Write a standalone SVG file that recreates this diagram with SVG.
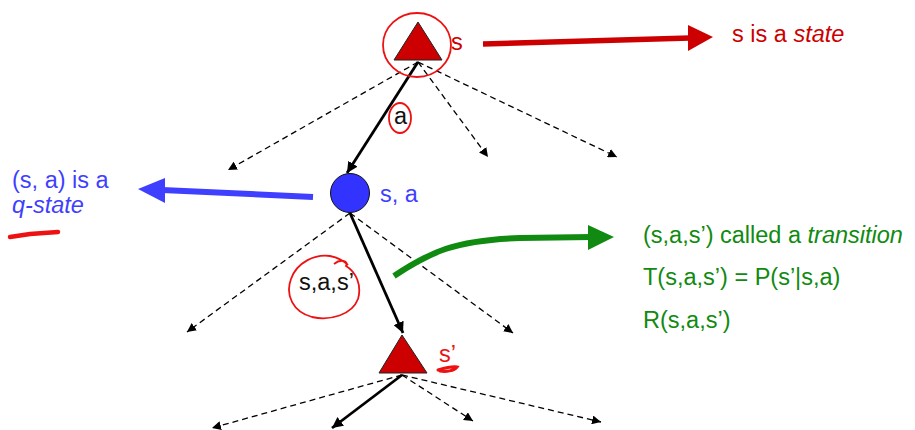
<svg xmlns="http://www.w3.org/2000/svg" width="915" height="430" viewBox="0 0 915 430">
<defs>
<style>
text{font-family:"Liberation Sans",Arial,sans-serif;font-size:23.5px}
.dash{stroke:#000;stroke-width:1.3;stroke-dasharray:6,4;fill:none}
.solid{stroke:#000;stroke-width:2.8;fill:none}
.ink{fill:none;stroke:#ee1111;stroke-width:1.8}
.red{fill:#cc0000}
.blue{fill:#3f3fff}
.green{fill:#108a10}
.it{font-style:italic}
</style>
<marker id="dh" viewBox="0 0 10 10" refX="10" refY="5" markerWidth="9" markerHeight="9" markerUnits="userSpaceOnUse" orient="auto"><path d="M0,0 L10,5 L0,10 z" fill="#000"/></marker>
<marker id="sh" viewBox="0 0 10 10" refX="10" refY="5" markerWidth="11" markerHeight="11" markerUnits="userSpaceOnUse" orient="auto"><path d="M0,0 L10,5 L0,10 z" fill="#000"/></marker>
</defs>
<rect width="915" height="430" fill="#fff"/>
<g id="connectors">
<line class="dash" x1="418" y1="62" x2="228" y2="170" marker-end="url(#dh)"/>
<line class="dash" x1="418" y1="62" x2="488" y2="157" marker-end="url(#dh)"/>
<line class="dash" x1="418" y1="62" x2="617" y2="157" marker-end="url(#dh)"/>
<line class="solid" x1="418" y1="62" x2="347" y2="173" marker-end="url(#sh)"/>
<line class="dash" x1="350" y1="213" x2="187" y2="332" marker-end="url(#dh)"/>
<line class="dash" x1="350" y1="213" x2="513" y2="333" marker-end="url(#dh)"/>
<line class="solid" x1="350" y1="213" x2="403" y2="333" marker-end="url(#sh)"/>
<line class="dash" x1="402" y1="375" x2="212" y2="428" marker-end="url(#dh)"/>
<line class="solid" x1="402" y1="375" x2="332" y2="428" marker-end="url(#sh)"/>
<line class="dash" x1="402" y1="375" x2="473" y2="421" marker-end="url(#dh)"/>
<line class="dash" x1="402" y1="375" x2="601" y2="422" marker-end="url(#dh)"/>
</g>
<g id="s">
<polygon points="418,22 394,60 442,60" fill="#cc0000" stroke="#222" stroke-width="1"/>
<ellipse class="ink" cx="417" cy="45" rx="34" ry="32"/>
<text x="451" y="50" class="red">s</text>
</g>
<g id="sa">
<circle cx="350" cy="193" r="19.5" fill="#3333ff" stroke="#111" stroke-width="1"/>
<text x="380" y="202" class="blue">s, a</text>
</g>
<g id="sprime">
<polygon points="402,335 379,373 427,373" fill="#cc0000" stroke="#222" stroke-width="1"/>
<text x="439" y="362" fill="#ee1111">s’</text>
<path d="M438,370 C445,368 452,366 457,367 C454,371 446,372 440,371" fill="none" stroke="#ee1111" stroke-width="3" stroke-linecap="round"/>
</g>
<g id="label-a">
<text x="394" y="124" fill="#111">a</text>
<ellipse class="ink" cx="400" cy="118" rx="11" ry="15"/>
</g>
<g id="label-sas">
<text x="299" y="290" fill="#111">s,a,s’</text>
<path class="ink" d="M334,264 C340,259 349,260 346,266 C356,272 362,285 358,299 C352,315 330,321 312,317 C293,312 285,295 291,279 C297,262 315,254 330,256 C340,258 346,263 348,265"/>
</g>
<g id="state-note">
<line x1="483" y1="44" x2="690" y2="38" stroke="#cc0000" stroke-width="5.5"/>
<polygon points="713,37 688,25 688,51" fill="#cc0000"/>
<text x="732" y="42" class="red">s is a <tspan class="it">state</tspan></text>
</g>
<g id="qstate-note">
<line x1="313" y1="197" x2="162" y2="190" stroke="#3f3fff" stroke-width="6"/>
<polygon points="138,189 165,178 165,203" fill="#3f3fff"/>
<text x="12" y="188" class="blue">(s, a) is a</text>
<text x="12" y="213" class="blue it">q-state</text>
<path d="M10,237 L30,234 L58,232" fill="none" stroke="#ee1111" stroke-width="4.5" stroke-linecap="round"/>
</g>
<g id="transition-note">
<path d="M394,276 C430,252 455,240 520,238 L592,237" fill="none" stroke="#108a10" stroke-width="6"/>
<polygon points="614,237 588,225 588,250" fill="#108a10"/>
<text x="643" y="243" class="green">(s,a,s’) called a <tspan class="it">transition</tspan></text>
<text x="643" y="285" class="green">T(s,a,s’) = P(s’|s,a)</text>
<text x="643" y="328" class="green">R(s,a,s’)</text>
</g>
</svg>
